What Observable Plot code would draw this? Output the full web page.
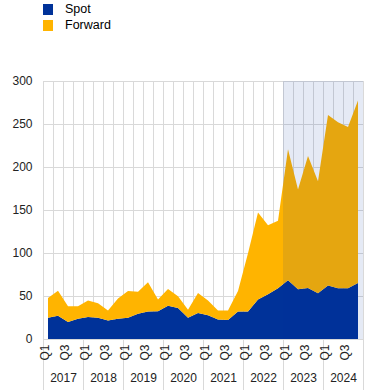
<!DOCTYPE html>
<html>
<head>
<meta charset="utf-8">
<script src="https://cdn.jsdelivr.net/npm/d3@7"></script>
<script src="https://cdn.jsdelivr.net/npm/@observablehq/plot@0.6"></script>
<style>
  html, body { margin: 0; padding: 0; background: #fff; }
  body { font-family: "Liberation Sans", Arial, sans-serif; }
  #wrap { position: relative; width: 372px; height: 390px; overflow: hidden; }
  #legend { position: absolute; left: 43px; top: 1px; font-size: 12.5px; color: #000; z-index: 2; }
  #legend .item { display: flex; align-items: center; height: 16px; }
  #legend .sw { width: 10px; height: 11px; margin-right: 12px; }
  #chart { position: absolute; left: 0; top: 0; }
</style>
</head>
<body>
<div id="wrap">
  <div id="legend"></div>
  <div id="chart"></div>
</div>
<script>
// ---- data ----
const years = [2017, 2018, 2019, 2020, 2021, 2022, 2023, 2024];
const quarters = ["Q1", "Q2", "Q3", "Q4"];
const shownQuarters = ["Q1", "Q3"];
const seriesNames = ["Spot", "Forward"];
const seriesColors = ["#003299", "#FFB400"];
const spot = [24.6, 27, 19.8, 23.5, 25.5, 24.6, 21.6, 23.5,
              24.6, 29.3, 32, 32.3, 38.7, 36, 24.6, 30.3,
              27.5, 22.6, 22.2, 32, 32, 46, 52, 59,
              68.3, 57.8, 59.3, 53.1, 62.1, 59, 59, 65.2];
const forward = [23.0, 29.2, 18.4, 14.7, 19.4, 17.1, 11.6, 23.5,
                 31.2, 25.7, 34, 13.7, 19.4, 13.6, 9.4, 23.1,
                 17.4, 10.6, 11, 23.8, 67.6, 101.2, 80.4, 78.5,
                 152.4, 116, 153.5, 130.4, 198.4, 193, 187.5, 212.1];
const yTicks = [0, 50, 100, 150, 200, 250, 300];
const shadedFromYear = 2023;

// ---- build tables ----
const periods = years.flatMap(y => quarters.map(q => ({year: y, q})));
const n = periods.length;
const rows = [];
periods.forEach((p, i) => {
  rows.push({i, year: p.year, q: p.q, series: "Spot", value: spot[i]});
  rows.push({i, year: p.year, q: p.q, series: "Forward", value: forward[i]});
});
const bandEdges = d3.range(n + 1).map(k => k - 0.5);
const yearEdges = d3.range(0, n + 1, quarters.length).map(k => k - 0.5);
const qLabels = periods.map((p, i) => ({i, q: p.q})).filter(d => shownQuarters.includes(d.q));
const yearLabels = years.map((y, k) => ({y, x: k * quarters.length + (quarters.length - 1) / 2}));
const shadeStart = periods.findIndex(p => p.year === shadedFromYear);
const shade = [{x1: shadeStart - 0.5, x2: n - 0.5}];

// ---- legend ----
const legend = document.getElementById("legend");
seriesNames.forEach((s, k) => {
  const item = document.createElement("div");
  item.className = "item";
  item.innerHTML = `<span class="sw" style="background:${seriesColors[k]}"></span><span>${s}</span>`;
  legend.appendChild(item);
});

// ---- chart ----
const gridColor = "#d9d9d9";
const chart = Plot.plot({
  width: 372,
  height: 390,
  marginTop: 81,
  marginBottom: 51,
  marginLeft: 43,
  marginRight: 9,
  style: {fontFamily: "'Liberation Sans', Arial, sans-serif", fontSize: "12px", color: "#222", background: "transparent", overflow: "visible"},
  x: {type: "linear", domain: [-0.5, n - 0.5], axis: null},
  y: {domain: [0, 300], axis: null},
  color: {domain: seriesNames, range: seriesColors},
  marks: [
    Plot.ruleY(yTicks, {stroke: gridColor, strokeWidth: 1}),
    Plot.ruleX(bandEdges, {stroke: gridColor, strokeWidth: 1}),
    Plot.ruleX(yearEdges, {stroke: gridColor, strokeWidth: 1, insetBottom: -51}),
    Plot.areaY(rows, {x: "i", y: "value", fill: "series", order: seriesNames}),
    Plot.rect(shade, {x1: "x1", x2: "x2", y1: 0, y2: 300, fill: "#003299", fillOpacity: 0.1}),
    Plot.axisY(yTicks, {tickSize: 0, tickPadding: 11, fontSize: 12, fill: "#222", label: null}),
    Plot.text(qLabels, {x: "i", text: "q", frameAnchor: "bottom", rotate: -90, textAnchor: "end", dy: 5, fontSize: 12, fill: "#222"}),
    Plot.text(yearLabels, {x: "x", text: d => String(d.y), frameAnchor: "bottom", dy: 42, fontSize: 12, fill: "#222"})
  ]
});
document.getElementById("chart").appendChild(chart);
</script>
</body>
</html>
